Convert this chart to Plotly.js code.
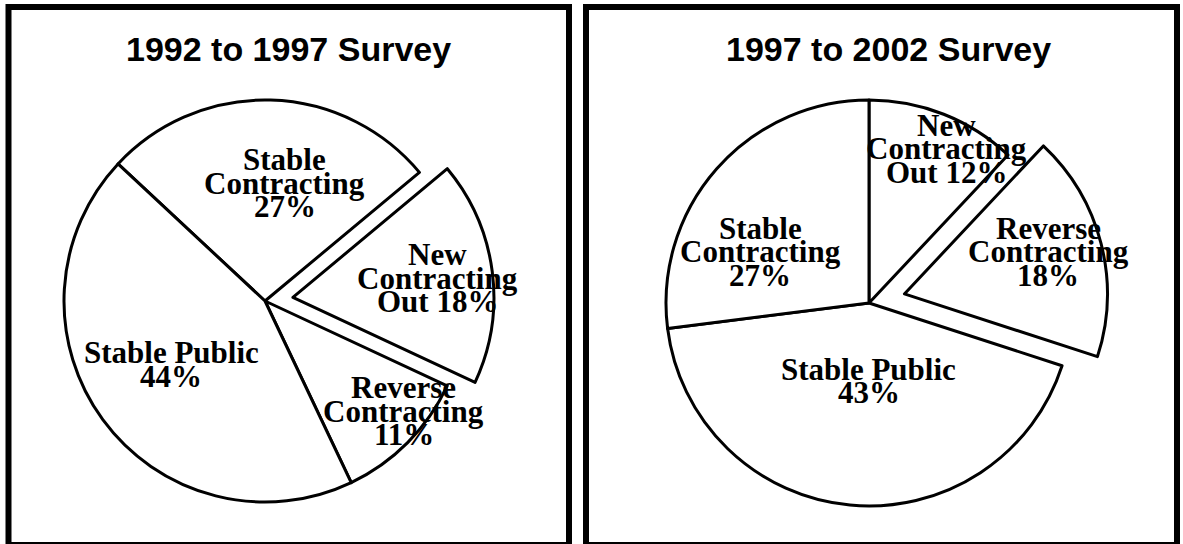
<!DOCTYPE html>
<html>
<head>
<meta charset="utf-8">
<script src="https://cdn.plot.ly/plotly-3.0.1.min.js"></script>
<style>
  html, body { margin: 0; padding: 0; background: #fff; overflow: hidden; }
  #chart { width: 1183px; height: 544px; }
</style>
</head>
<body>
<div id="chart"></div>
<script>
// ---- data ----
var titles = ['1992 to 1997 Survey', '1997 to 2002 Survey'];

var categories1 = ['Stable Contracting', 'New Contracting Out', 'Reverse Contracting', 'Stable Public'];
var values1 = [27, 18, 11, 44];
var pull1 = [0, 0.14, 0, 0];

var categories2 = ['New Contracting Out', 'Reverse Contracting', 'Stable Public', 'Stable Contracting'];
var values2 = [12, 18, 43, 27];
var pull2 = [0, 0.18, 0, 0];

// how each label wraps (words per line); the percentage goes on a new line or joins the last one
var wrap1 = [[['Stable'], ['Contracting']], [['New'], ['Contracting'], ['Out']], [['Reverse'], ['Contracting']], [['Stable Public']]];
var pctJoin1 = [false, true, false, false];
var wrap2 = [[['New'], ['Contracting'], ['Out']], [['Reverse'], ['Contracting']], [['Stable Public']], [['Stable'], ['Contracting']]];
var pctJoin2 = [true, false, false, false];

// ---- layout (pixels) ----
var W = 1183, H = 544;
var pies = [
  {cx: 265, cy: 301, r: 201, rotation: -47, titleX: 288.5},
  {cx: 869, cy: 303, r: 203, rotation: 0, titleX: 888.5}
];
// label block positions: center x, first baseline y
var labelPos1 = [[284.5, 170], [437.5, 265], [403.5, 398], [171, 363.3]];
var labelPos2 = [[946, 135.6], [1048, 238.7], [868.5, 379.6], [760, 238.7]];
var lineGap = 23.5;
var labelSize = 31;

function px(x) { return x / W; }
function py(y) { return 1 - y / H; }

function pieTrace(cats, vals, pulls, p) {
  var maxPull = Math.max.apply(null, pulls);
  var half = p.r * (1 + maxPull);
  return {
    type: 'pie',
    labels: cats,
    values: vals,
    pull: pulls,
    sort: false,
    direction: 'clockwise',
    rotation: p.rotation,
    textinfo: 'none',
    hoverinfo: 'none',
    showlegend: false,
    marker: {colors: cats.map(function(){ return '#ffffff'; }), line: {color: '#000000', width: 3}},
    domain: {x: [px(p.cx - half), px(p.cx + half)], y: [py(p.cy + half), py(p.cy - half)]}
  };
}

function labelAnnotations(cats, vals, wraps, joins, pos) {
  var out = [];
  for (var i = 0; i < cats.length; i++) {
    var lines = wraps[i].map(function(w){ return w.join(' '); });
    var pct = vals[i] + '%';
    if (joins[i]) lines[lines.length - 1] += ' ' + pct; else lines.push(pct);
    for (var k = 0; k < lines.length; k++) {
      var base = pos[i][1] + k * lineGap;
      out.push({
        xref: 'paper', yref: 'paper',
        x: px(pos[i][0]), y: py(base - 0.338 * labelSize),
        xanchor: 'center', yanchor: 'middle', borderpad: 0,
        text: lines[k], showarrow: false,
        font: {family: 'Liberation Serif, Times New Roman, serif', size: labelSize, weight: 'bold', color: '#000'}
      });
    }
  }
  return out;
}

var annotations = [];
titles.forEach(function(t, i) {
  annotations.push({
    xref: 'paper', yref: 'paper', x: px(pies[i].titleX), y: py(49.5),
    xanchor: 'center', yanchor: 'middle', showarrow: false, text: t,
    font: {family: 'Liberation Sans, Arial, sans-serif', size: 34, weight: 'bold', color: '#000'}
  });
});
annotations = annotations.concat(labelAnnotations(categories1, values1, wrap1, pctJoin1, labelPos1));
annotations = annotations.concat(labelAnnotations(categories2, values2, wrap2, pctJoin2, labelPos2));

var boxes = [[8.5, 7, 569, 545], [586, 7, 1177, 545]];
var shapes = boxes.map(function(b) {
  return {type: 'rect', xref: 'paper', yref: 'paper', x0: px(b[0]), x1: px(b[2]), y0: py(b[3]), y1: py(b[1]),
          line: {color: '#000', width: 6}, fillcolor: 'rgba(0,0,0,0)', layer: 'above'};
});

var data = [pieTrace(categories1, values1, pull1, pies[0]), pieTrace(categories2, values2, pull2, pies[1])];

var layout = {
  width: W, height: H,
  margin: {l: 0, r: 0, t: 0, b: 0, pad: 0},
  paper_bgcolor: '#ffffff', plot_bgcolor: '#ffffff',
  annotations: annotations,
  shapes: shapes
};

Plotly.newPlot('chart', data, layout, {staticPlot: true, displayModeBar: false});
</script>
</body>
</html>
